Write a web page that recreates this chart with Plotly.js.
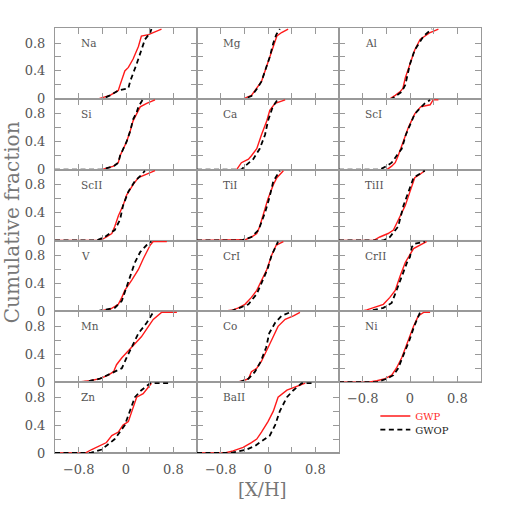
<!DOCTYPE html>
<html>
<head>
<meta charset="utf-8">
<script src="https://cdn.plot.ly/plotly-3.0.1.min.js"></script>
<style>html,body{margin:0;padding:0;background:#fff;}#chart{width:507px;height:507px;}</style>
</head>
<body>
<div id="chart"></div>
<script>
// ---- data (cumulative fraction vs [X/H]) ----
const elements = ['Na','Mg','Al','Si','Ca','ScI','ScII','TiI','TiII','V','CrI','CrII','Mn','Co','Ni','Zn','BaII'];

const Na_GWP_x = [-1.2,-0.47,-0.27,-0.13,-0.10,-0.02,0.04,0.12,0.21,0.26,0.38,0.46,0.6];
const Na_GWP_y = [0,0,0.05,0.12,0.2,0.4,0.45,0.57,0.75,0.9,0.92,0.95,1.0];
const Na_GWOP_x = [-1.2,-0.4,-0.27,-0.13,0.04,0.07,0.18,0.26,0.32,0.41,0.43];
const Na_GWOP_y = [0,0,0.05,0.12,0.15,0.25,0.5,0.7,0.85,0.95,1.0];

const Mg_GWP_x = [-1.2,-0.42,-0.28,-0.19,-0.11,-0.05,0.03,0.10,0.15,0.23,0.34];
const Mg_GWP_y = [0,0,0.05,0.15,0.25,0.4,0.6,0.8,0.9,0.95,1.0];
const Mg_GWOP_x = [-1.2,-0.40,-0.28,-0.19,-0.11,-0.05,0.03,0.09,0.14,0.2];
const Mg_GWOP_y = [0,0,0.04,0.14,0.25,0.4,0.6,0.8,0.92,1.0];

const Al_GWP_x = [-1.2,-0.34,-0.25,-0.17,-0.12,-0.08,0,0.08,0.17,0.34,0.48];
const Al_GWP_y = [0,0,0.05,0.1,0.15,0.3,0.5,0.7,0.85,0.95,1.0];
const Al_GWOP_x = [-1.2,-0.31,-0.14,-0.08,0,0.08,0.23,0.37];
const Al_GWOP_y = [0,0,0.1,0.2,0.5,0.7,0.9,1.0];

const Si_GWP_x = [-1.2,-0.41,-0.21,-0.13,-0.10,0.01,0.07,0.12,0.18,0.24,0.35,0.49];
const Si_GWP_y = [0,0,0.05,0.1,0.2,0.4,0.55,0.7,0.8,0.9,0.95,1.0];
const Si_GWOP_x = [-1.2,-0.41,-0.21,-0.13,-0.10,0.01,0.07,0.12,0.18,0.21,0.28];
const Si_GWOP_y = [0,0,0.05,0.1,0.2,0.4,0.55,0.72,0.82,0.9,1.0];

const Ca_GWP_x = [-1.2,-0.53,-0.45,-0.33,-0.28,-0.19,-0.11,-0.02,0.03,0.12,0.29];
const Ca_GWP_y = [0,0,0.1,0.15,0.2,0.3,0.5,0.7,0.85,0.95,1.0];
const Ca_GWOP_x = [-1.2,-0.45,-0.39,-0.25,-0.14,-0.05,0.0,0.08,0.16];
const Ca_GWOP_y = [0,0,0.05,0.15,0.3,0.5,0.7,0.9,1.0];

const ScI_GWP_x = [-1.2,-0.39,-0.31,-0.25,-0.2,-0.11,-0.03,0.08,0.18,0.34,0.39,0.48];
const ScI_GWP_y = [0,0,0.05,0.1,0.2,0.4,0.6,0.8,0.9,0.93,1.0,1.0];
const ScI_GWOP_x = [-1.2,-0.51,-0.4,-0.31,-0.14,-0.07,0.08,0.25,0.34];
const ScI_GWOP_y = [0,0,0.05,0.1,0.3,0.5,0.8,0.95,1.0];

const ScII_GWP_x = [-1.2,-0.44,-0.33,-0.24,-0.19,-0.13,-0.05,0.01,0.12,0.21,0.35,0.49];
const ScII_GWP_y = [0,0,0.05,0.1,0.2,0.35,0.5,0.65,0.8,0.9,0.95,1.0];
const ScII_GWOP_x = [-1.2,-0.5,-0.36,-0.19,-0.10,-0.05,0.04,0.15,0.27,0.32];
const ScII_GWOP_y = [0,0,0.05,0.15,0.3,0.5,0.7,0.85,0.95,1.0];

const TiI_GWP_x = [-1.2,-0.53,-0.39,-0.28,-0.19,-0.14,-0.07,0.0,0.09,0.15,0.26];
const TiI_GWP_y = [0,0,0.01,0.05,0.1,0.2,0.4,0.6,0.8,0.9,1.0];
const TiI_GWOP_x = [-1.2,-0.45,-0.28,-0.16,-0.05,0.02,0.09,0.2];
const TiI_GWOP_y = [0,0,0.05,0.15,0.4,0.6,0.85,1.0];

const TiII_GWP_x = [-1.2,-0.62,-0.51,-0.37,-0.28,-0.2,-0.08,0,0.08,0.17,0.25];
const TiII_GWP_y = [0,0,0.05,0.1,0.15,0.3,0.5,0.7,0.9,0.95,1.0];
const TiII_GWOP_x = [-1.2,-0.45,-0.34,-0.2,-0.11,-0.03,0.06,0.25];
const TiII_GWOP_y = [0,0,0.05,0.2,0.5,0.7,0.9,1.0];

const V_GWP_x = [-1.2,-0.5,-0.27,-0.13,-0.07,-0.02,0.10,0.21,0.29,0.38,0.41,0.46,0.69];
const V_GWP_y = [0,0,0.03,0.1,0.2,0.3,0.45,0.6,0.75,0.9,0.95,1.0,1.0];
const V_GWOP_x = [-1.2,-0.5,-0.19,-0.07,0.01,0.07,0.15,0.24,0.35,0.43];
const V_GWOP_y = [0,0,0.05,0.15,0.35,0.5,0.7,0.85,0.95,1.0];

const CrI_GWP_x = [-1.2,-0.78,-0.59,-0.5,-0.39,-0.28,-0.19,-0.11,-0.02,0.06,0.14,0.26];
const CrI_GWP_y = [0,0,0.02,0.05,0.1,0.2,0.3,0.45,0.6,0.8,0.95,1.0];
const CrI_GWOP_x = [-1.2,-0.64,-0.48,-0.33,-0.19,-0.09,-0.01,0.06,0.17];
const CrI_GWOP_y = [0,0,0.05,0.1,0.25,0.45,0.6,0.8,1.0];

const CrII_GWP_x = [-1.2,-0.85,-0.73,-0.62,-0.45,-0.34,-0.25,-0.17,-0.08,0.06,0.17,0.28];
const CrII_GWP_y = [0,0,0.02,0.05,0.1,0.2,0.3,0.5,0.7,0.9,0.95,1.0];
const CrII_GWOP_x = [-1.2,-0.73,-0.45,-0.31,-0.25,-0.2,-0.14,-0.08,-0.05,0,0.03,0.08,0.25];
const CrII_GWOP_y = [0,0,0.05,0.12,0.25,0.37,0.51,0.63,0.7,0.78,0.92,0.97,1.0];

const Mn_GWP_x = [-1.2,-0.83,-0.61,-0.44,-0.3,-0.21,-0.16,-0.07,0.04,0.15,0.26,0.38,0.46,0.6,0.86];
const Mn_GWP_y = [0,0,0.02,0.05,0.1,0.15,0.25,0.35,0.45,0.55,0.65,0.8,0.9,1.0,1.0];
const Mn_GWOP_x = [-1.2,-0.72,-0.44,-0.19,-0.07,0.01,0.1,0.21,0.35,0.46];
const Mn_GWOP_y = [0,0,0.05,0.15,0.2,0.35,0.5,0.7,0.85,1.0];

const Co_GWP_x = [-1.2,-0.53,-0.42,-0.33,-0.28,-0.19,-0.11,-0.02,0.06,0.17,0.29,0.43,0.54];
const Co_GWP_y = [0,0,0.02,0.05,0.15,0.2,0.3,0.45,0.6,0.8,0.9,0.95,1.0];
const Co_GWOP_x = [-1.2,-0.48,-0.33,-0.22,-0.12,-0.03,0.02,0.12,0.23,0.37];
const Co_GWOP_y = [0,0,0.05,0.15,0.3,0.5,0.7,0.85,0.95,1.0];

const Ni_GWP_x = [-1.2,-0.7,-0.56,-0.42,-0.31,-0.23,-0.14,-0.03,0.06,0.14,0.23,0.34];
const Ni_GWP_y = [0,0,0.02,0.05,0.1,0.2,0.35,0.6,0.8,0.95,1.0,1.0];
const Ni_GWOP_x = [-1.2,-0.56,-0.39,-0.28,-0.2,-0.1,-0.01,0.07,0.17];
const Ni_GWOP_y = [0,0,0.05,0.1,0.2,0.4,0.6,0.8,1.0];

const Zn_GWP_x = [-1.2,-0.69,-0.58,-0.44,-0.33,-0.24,-0.13,-0.05,0.04,0.10,0.18,0.29,0.38,0.43];
const Zn_GWP_y = [0,0,0.05,0.1,0.15,0.25,0.3,0.4,0.45,0.6,0.8,0.85,0.95,1.0];
const Zn_GWOP_x = [-1.2,-0.61,-0.41,-0.33,-0.19,-0.02,0.07,0.15,0.26,0.41,0.74];
const Zn_GWOP_y = [0,0,0.05,0.1,0.2,0.4,0.6,0.8,0.9,1.0,1.0];

const BaII_GWP_x = [-1.2,-0.73,-0.59,-0.42,-0.28,-0.19,-0.11,0.0,0.09,0.17,0.32,0.48,0.63];
const BaII_GWP_y = [0,0,0.03,0.08,0.15,0.2,0.3,0.45,0.6,0.8,0.9,0.95,1.0];
const BaII_GWOP_x = [-1.2,-0.64,-0.36,-0.22,-0.14,0.03,0.12,0.2,0.32,0.43,0.57,0.77];
const BaII_GWOP_y = [0,0,0.05,0.1,0.15,0.25,0.4,0.6,0.8,0.9,1.0,1.0];

const gwpX = [Na_GWP_x,Mg_GWP_x,Al_GWP_x,Si_GWP_x,Ca_GWP_x,ScI_GWP_x,ScII_GWP_x,TiI_GWP_x,TiII_GWP_x,V_GWP_x,CrI_GWP_x,CrII_GWP_x,Mn_GWP_x,Co_GWP_x,Ni_GWP_x,Zn_GWP_x,BaII_GWP_x];
const gwpY = [Na_GWP_y,Mg_GWP_y,Al_GWP_y,Si_GWP_y,Ca_GWP_y,ScI_GWP_y,ScII_GWP_y,TiI_GWP_y,TiII_GWP_y,V_GWP_y,CrI_GWP_y,CrII_GWP_y,Mn_GWP_y,Co_GWP_y,Ni_GWP_y,Zn_GWP_y,BaII_GWP_y];
const gwopX = [Na_GWOP_x,Mg_GWOP_x,Al_GWOP_x,Si_GWOP_x,Ca_GWOP_x,ScI_GWOP_x,ScII_GWOP_x,TiI_GWOP_x,TiII_GWOP_x,V_GWOP_x,CrI_GWOP_x,CrII_GWOP_x,Mn_GWOP_x,Co_GWOP_x,Ni_GWOP_x,Zn_GWOP_x,BaII_GWOP_x];
const gwopY = [Na_GWOP_y,Mg_GWOP_y,Al_GWOP_y,Si_GWOP_y,Ca_GWOP_y,ScI_GWOP_y,ScII_GWOP_y,TiI_GWOP_y,TiII_GWOP_y,V_GWOP_y,CrI_GWOP_y,CrII_GWOP_y,Mn_GWOP_y,Co_GWOP_y,Ni_GWOP_y,Zn_GWOP_y,BaII_GWOP_y];

const xTickVals = [-0.8,-0.4,0,0.4,0.8];
const xTickText = ['\u22120.8','','0','','0.8'];
const yTickVals = [0,0.2,0.4,0.6,0.8];
const yTickText = ['0','','0.4','','0.8'];
const seriesNames = ['GWP','GWOP'];

// ---- build figure ----
const FONT = 'DejaVu Serif, Liberation Serif, serif';
const traces = [];
const legendBase = {xanchor: 'left', yanchor: 'middle', bgcolor: 'rgba(0,0,0,0)',
  font: {family: FONT, size: 10, color: '#333'}, itemwidth: 30};
const layout = {
  width: 507, height: 507,
  margin: {l: 55, r: 26, t: 28, b: 54},
  paper_bgcolor: '#fff', plot_bgcolor: 'rgba(0,0,0,0)',
  showlegend: true,
  legend: Object.assign({x: 0.752, y: 0.087}, legendBase),
  legend2: Object.assign({x: 0.752, y: 0.055}, legendBase),
  annotations: [], shapes: []
};
const bottomPanels = ['Zn','BaII','Ni'];

elements.forEach((el, i) => {
  const n = i + 1;
  const r = Math.floor(i / 3), c = i % 3;
  const xs = n === 1 ? '' : String(n);
  traces.push({x: gwpX[i], y: gwpY[i], xaxis: 'x' + xs, yaxis: 'y' + xs, type: 'scatter', mode: 'lines',
    name: '<span style="color:#ff2a2a">' + seriesNames[0] + '</span>', legend: 'legend', showlegend: i === 0,
    line: {color: '#ff1a1a', width: 1.4}, hoverinfo: 'skip'});
  traces.push({x: gwopX[i], y: gwopY[i], xaxis: 'x' + xs, yaxis: 'y' + xs, type: 'scatter', mode: 'lines',
    name: '<span style="color:#222">' + seriesNames[1] + '</span>', legend: 'legend2', showlegend: i === 0,
    line: {color: '#000', width: 1.8, dash: '5px,3.5px'}, hoverinfo: 'skip'});
  layout['xaxis' + xs] = {
    domain: [c / 3, (c + 1) / 3], anchor: 'y' + xs, range: [-1.2, 1.2],
    showline: true, linecolor: '#999', linewidth: 1, mirror: 'ticks',
    ticks: 'inside', ticklen: 6, tickcolor: '#999', tickwidth: 1,
    tickmode: 'array', tickvals: xTickVals, ticktext: xTickText,
    showticklabels: bottomPanels.includes(el), ticklabelstandoff: 4,
    tickfont: {family: FONT, size: 13, color: '#555'},
    showgrid: false, zeroline: false, fixedrange: true
  };
  layout['yaxis' + xs] = {
    domain: [1 - (r + 1) / 6, 1 - r / 6], anchor: 'x' + xs, range: [0, 1.015],
    showline: true, linecolor: '#999', linewidth: 1, mirror: 'ticks',
    ticks: 'inside', ticklen: 6, tickcolor: '#999', tickwidth: 1,
    tickmode: 'array', tickvals: yTickVals, ticktext: yTickText,
    showticklabels: c === 0, ticklabelstandoff: 6,
    tickfont: {family: FONT, size: 13, color: '#555'},
    showgrid: false, zeroline: false, fixedrange: true
  };
  layout.shapes.push({type: 'line', xref: 'x' + xs + ' domain', yref: 'y' + xs, x0: 0, x1: 1, y0: 0, y1: 0,
    line: {color: '#333', width: 1}, layer: 'below'});
  layout.annotations.push({text: el, xref: 'x' + xs, yref: 'y' + xs, x: -0.8, y: 0.8, xanchor: 'left', yanchor: 'middle',
    showarrow: false, font: {family: FONT, size: 10.5, color: '#555'}});
});

layout.annotations.push({text: '[X/H]', xref: 'paper', yref: 'paper', x: 0.488, y: -0.085, xanchor: 'center', yanchor: 'middle',
  showarrow: false, font: {family: FONT, size: 18, color: '#777'}});
layout.annotations.push({text: 'Cumulative fraction', xref: 'paper', yref: 'paper', x: -0.101, y: 0.543, xanchor: 'center', yanchor: 'middle',
  textangle: -90, showarrow: false, font: {family: FONT, size: 20, color: '#777'}});

Plotly.newPlot('chart', traces, layout, {staticPlot: true, displayModeBar: false});
</script>
</body>
</html>
